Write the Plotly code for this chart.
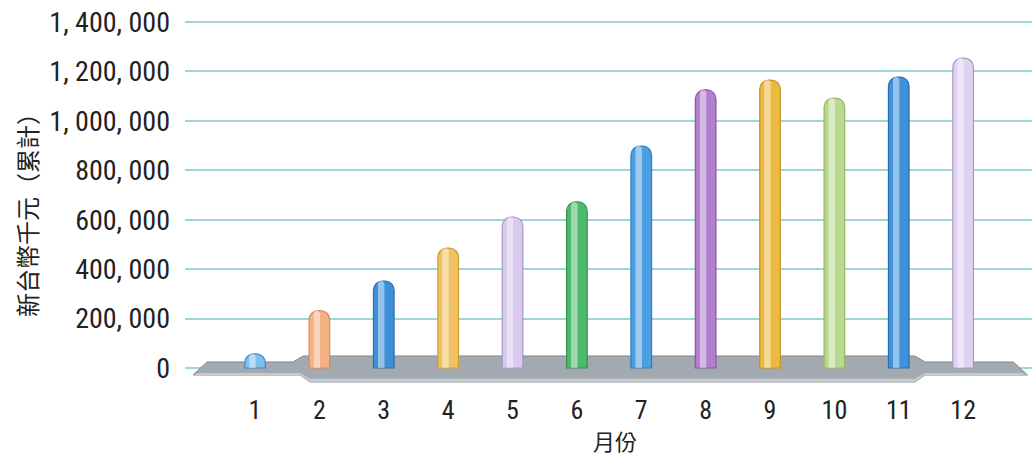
import plotly.graph_objects as go

# ---- data ----
months = [1, 2, 3, 4, 5, 6, 7, 8, 9, 10, 11, 12]
month_labels = [str(m) for m in months]
values = [57000, 232000, 352000, 485000, 611000, 672000, 898000,
          1125000, 1165000, 1092000, 1177000, 1254000]
ytick_vals = [0, 200000, 400000, 600000, 800000, 1000000, 1200000, 1400000]
ytick_text = ["0", "200, 000", "400, 000", "600, 000", "800, 000",
              "1, 000, 000", "1, 200, 000", "1, 400, 000"]

body_colors = ["#7cc0ec", "#f4b184", "#3f90d8", "#f0c262", "#d8caee", "#4fb96c",
               "#4d9fe0", "#b27fce", "#ebba42", "#b9da8e", "#3f91d9", "#e0d3f2"]
edge_colors = ["#3f88c0", "#d98a55", "#2a6cb0", "#cf9a30", "#a895c8", "#2f9050",
               "#2f7cc0", "#8a55a8", "#c99420", "#8fb860", "#2a6cb0", "#a898c8"]

FONT_NUM = "Liberation Sans Narrow, Arial Narrow, Roboto Condensed, DejaVu Sans Condensed, sans-serif"
FONT_CJK = "Noto Sans CJK TC, Noto Sans CJK SC, sans-serif"

fig = go.Figure()

# floor (decorative ribbon)
floor_path = ("M 0.037,-28300 L 0.254,24300 L 1.59,24300 L 1.746,48600 "
              "L 11.25,48600 L 11.41,24300 L 12.78,24300 L 13.0,-28300 "
              "L 11.41,-28300 L 11.25,-56600 L 1.855,-56600 L 1.70,-28300 Z")
floor_front = ("M 0.037,-28300 L 1.70,-28300 L 1.855,-56600 L 11.25,-56600 "
               "L 11.41,-28300 L 13.0,-28300 L 12.9,-20000 L 11.41,-20000 "
               "L 11.25,-44000 L 1.855,-44000 L 1.70,-20000 L 0.12,-20000 Z")

fig.add_trace(go.Bar(
    x=months, y=values, width=0.32,
    marker=dict(color=body_colors, line=dict(color=edge_colors, width=1.2),
                cornerradius=9),
    hoverinfo="x+y", showlegend=False,
))
fig.add_trace(go.Bar(
    x=months, y=values, width=0.1, offset=-0.09,
    marker=dict(color="rgba(255,255,255,0.45)", line=dict(width=0),
                cornerradius=4),
    hoverinfo="skip", showlegend=False,
))

fig.update_layout(
    width=1032, height=458,
    margin=dict(l=185, r=0, t=10, b=66),
    paper_bgcolor="white", plot_bgcolor="white",
    barmode="overlay",
    showlegend=False,
    shapes=[
        dict(type="path", path=floor_path, xref="x", yref="y",
             fillcolor="#a3a9b0", line=dict(color="#80868d", width=1), layer="between"),
        dict(type="path", path=floor_front, xref="x", yref="y",
             fillcolor="#c6cacf", line=dict(width=0), layer="between"),
    ],
    xaxis=dict(
        range=[-0.088, 13.07],
        tickmode="array", tickvals=months, ticktext=month_labels,
        tickfont=dict(family=FONT_NUM, size=26, color="#222"),
        showgrid=False, zeroline=False, showline=False, ticks="",
    ),
    yaxis=dict(
        range=[-97110, 1448555],
        tickmode="array", tickvals=ytick_vals, ticktext=ytick_text,
        tickfont=dict(family=FONT_NUM, size=28, color="#222"),
        showgrid=True, gridcolor="#9fd6da", gridwidth=2,
        zeroline=False, showline=False, ticks="",
        ticklabelstandoff=14,
    ),
    annotations=[
        dict(text="新台幣千元（累計）", xref="paper", yref="paper",
             x=-0.1877, y=0.479, xanchor="center", yanchor="middle",
             textangle=-90, showarrow=False,
             font=dict(family=FONT_CJK, size=24, color="#222")),
        dict(text="月份", xref="paper", yref="paper",
             x=0.508, y=-0.126, xanchor="center", yanchor="middle",
             showarrow=False,
             font=dict(family=FONT_CJK, size=22, color="#222")),
    ],
)

fig.write_html("out.html", config={"displayModeBar": False},
               post_script="document.body.style.margin='0';")
